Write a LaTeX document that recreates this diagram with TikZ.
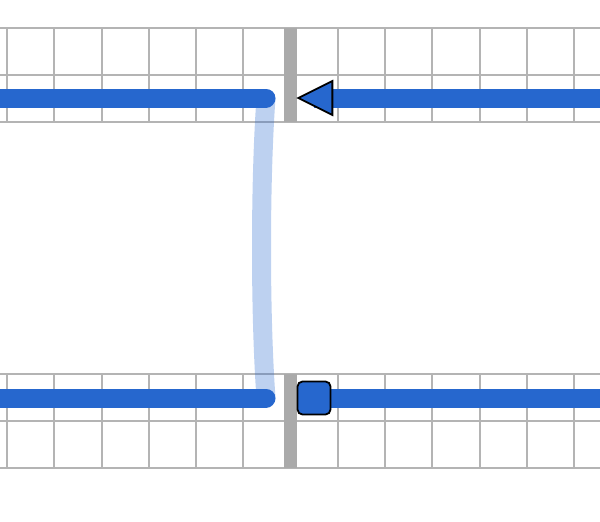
\documentclass[tikz,border=0pt]{standalone}
\usetikzlibrary{shapes.geometric}
\definecolor{wireblue}{RGB}{38,103,206}
\definecolor{gridgray}{RGB}{180,180,180}
\definecolor{bargray}{RGB}{170,170,170}
\tikzset{
  gridline/.style={draw=gridgray, line width=2pt},
  wire/.style={draw=wireblue, line width=19pt, line cap=round},
  wireflat/.style={draw=wireblue, line width=19pt},
  link/.style={draw=wireblue, draw opacity=0.3, line width=19pt},
  tri/.style={isosceles triangle, isosceles triangle stretches, shape border rotate=180,
    minimum width=34pt, minimum height=34pt, inner sep=0pt, fill=wireblue, draw=black, line width=1.8pt},
  sq/.style={rectangle, rounded corners=5pt, minimum size=33pt, inner sep=0pt,
    fill=wireblue, draw=black, line width=1.8pt}
}
\begin{document}
\begin{tikzpicture}[x=1pt,y=-1pt]
\useasboundingbox (0,0) rectangle (600,522);
% grid bands
\foreach \yt in {27.5,374} {
  \foreach \k in {0,1,2} \draw[gridline] (0,\yt+47*\k) -- (600,\yt+47*\k);
  \foreach \k in {-6,...,-1,1,2,...,6} \draw[gridline] (290.5+47.25*\k,\yt) -- (290.5+47.25*\k,\yt+94);
  \draw[draw=bargray, line width=13pt] (290.5,\yt) -- (290.5,\yt+94);
}
% coordinates
\coordinate (tl0) at (0,98);
\coordinate (tl1) at (266,98);
\coordinate (tr0) at (314,98);
\coordinate (tr1) at (600,98);
\coordinate (bl0) at (0,398);
\coordinate (bl1) at (266,398);
\coordinate (br0) at (314,398);
\coordinate (br1) at (600,398);
% link
\draw[link] (tl1) .. controls (260,180) and (260,316) .. (bl1);
% wires
\draw[wire] (tl0) -- (tl1);
\draw[wire] (bl0) -- (bl1);
\draw[wireflat] (tr0) -- (tr1);
\draw[wireflat] (br0) -- (br1);
% markers
\node[tri, anchor=apex] (tri) at (296,98) {};
\node[sq] (sq) at (314,398) {};
\end{tikzpicture}
\end{document}
